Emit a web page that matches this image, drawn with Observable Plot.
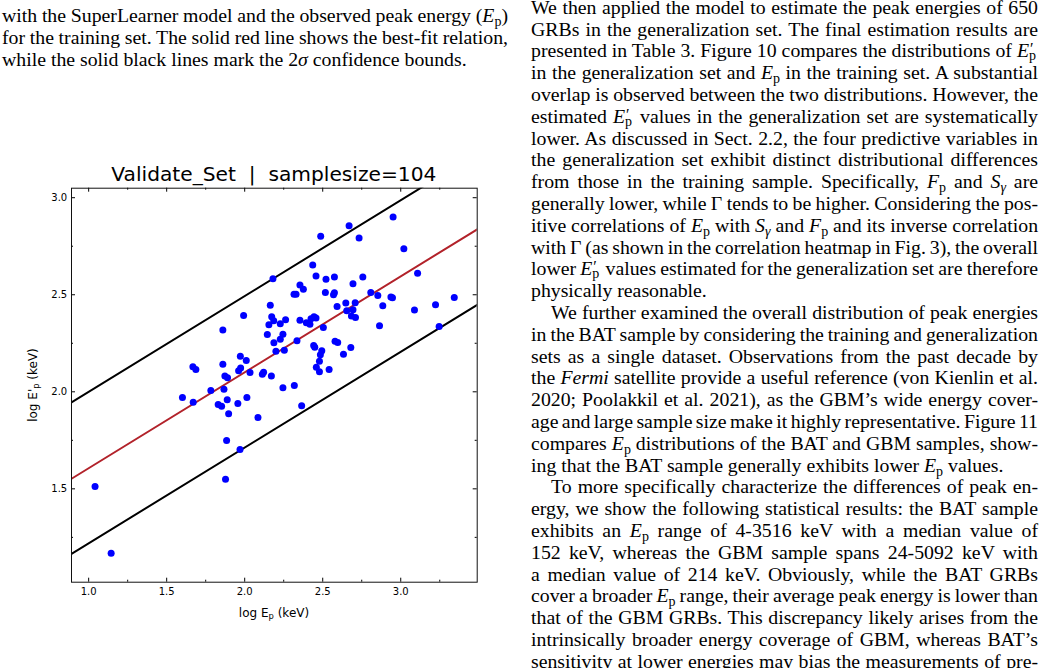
<!DOCTYPE html>
<html><head><meta charset="utf-8">
<script src="https://cdn.jsdelivr.net/npm/d3@7"></script>
<script src="https://cdn.jsdelivr.net/npm/@observablehq/plot@0.6"></script>
<style>
html,body{margin:0;padding:0;background:#fff;}
#page{position:relative;width:1058px;height:668px;overflow:hidden;background:#fff;}
.ln{position:absolute;white-space:nowrap;font-family:"Liberation Serif","Times New Roman",serif;font-size:19.8px;line-height:22px;color:#000;text-align:justify;text-align-last:justify;}
.ln.end,.ln.measure{text-align:left;text-align-last:left;}
.ln sub{font-size:14px;vertical-align:-4px;line-height:0;}
.st{display:inline-block;position:relative;width:9px;height:1px;}
.st .a{position:absolute;left:1px;top:-15px;font-size:16px;line-height:16px;}
.st .b{position:absolute;left:0;top:-7px;font-size:14px;line-height:14px;}
.ct{position:absolute;font-family:"DejaVu Sans",sans-serif;color:#000;white-space:pre;}
.ct sub{font-size:0.7em;vertical-align:-0.25em;line-height:0;}
</style></head>
<body><div id="page"></div>
<script>
// ---------------- data ----------------
const logEp = [2.951,2.669,2.487,2.733,3.020,2.436,3.108,2.181,2.457,2.521,2.575,2.757,2.354,2.376,2.694,2.316,2.329,2.517,2.569,2.575,2.808,2.853,2.937,2.947,3.343,3.223,3.246,3.088,2.885,2.864,2.592,2.648,2.654,2.708,2.694,2.684,2.710,2.164,1.993,2.173,2.186,2.155,2.228,2.262,2.354,2.395,2.418,2.425,2.444,2.457,2.504,1.860,2.145,2.245,2.228,2.187,2.335,2.579,2.596,2.442,2.449,2.494,2.485,2.633,2.680,2.200,2.254,1.972,2.010,1.860,2.479,2.459,2.479,2.541,1.961,1.974,2.034,1.668,1.687,2.113,2.121,2.171,1.873,1.890,1.867,1.783,2.245,2.318,1.601,1.670,1.830,1.852,1.888,1.897,1.956,2.014,2.085,2.365,1.884,1.970,1.877,1.041,1.144];
const logEpEst = [2.900,2.856,2.802,2.792,2.737,2.653,2.611,2.582,2.596,2.580,2.592,2.591,2.550,2.529,2.557,2.503,2.503,2.512,2.500,2.510,2.512,2.496,2.488,2.485,2.486,2.448,2.337,2.421,2.443,2.340,2.440,2.457,2.418,2.459,2.423,2.390,2.383,2.446,2.393,2.387,2.366,2.345,2.350,2.371,2.369,2.356,2.348,2.376,2.387,2.380,2.331,2.318,2.295,2.297,2.271,2.253,2.263,2.261,2.254,2.239,2.230,2.211,2.191,2.194,2.228,2.209,2.214,2.183,2.161,2.142,2.158,2.127,2.103,2.115,2.109,2.123,2.100,2.129,2.115,2.091,2.101,2.082,2.082,2.072,2.013,2.007,2.021,2.032,1.970,1.946,1.934,1.926,1.959,1.887,1.940,1.971,1.868,1.928,1.749,1.703,1.550,1.512,1.168];
const lineX = [0.89, 3.49];
const bestFitY = [1.552, 2.837];
const upperBoundY = [1.945, 3.229];
const lowerBoundY = [1.165, 2.448];
const xDomain = [0.89, 3.49];
const yDomain = [1.019, 3.049];
const xMajor = [1.0, 1.5, 2.0, 2.5, 3.0];
const xMinor = [1.25, 1.75, 2.25, 2.75, 3.25];
const yMajor = [1.5, 2.0, 2.5, 3.0];
const yMinor = [1.25, 1.75, 2.25, 2.75];
const chartTitle = "Validate_Set  |  samplesize=104";
const xLabel = "log E<sub>p</sub> (keV)";
const yLabel = "log E'<sub>p</sub> (keV)";

const Ep = '<i>E</i><sub>p</sub>';
const Epp = '<i>E</i><span class="st"><span class="a">′</span><span class="b">p</span></span>';
const Fp = '<i>F</i><sub>p</sub>';
const Sg = '<i>S</i><sub><i>γ</i></sub>';
const captionLines = [
  `with the SuperLearner model and the observed peak energy (${Ep})`,
  `for the training set. The solid red line shows the best-fit relation,`,
  `while the solid black lines mark the 2<i>σ</i> confidence bounds.`
];
const bodyLines = [
  `We then applied the model to estimate the peak energies of 650`,
  `GRBs in the generalization set. The final estimation results are`,
  `presented in Table 3. Figure 10 compares the distributions of ${Epp}`,
  `in the generalization set and ${Ep} in the training set. A substantial`,
  `overlap is observed between the two distributions. However, the`,
  `estimated ${Epp} values in the generalization set are systematically`,
  `lower. As discussed in Sect. 2.2, the four predictive variables in`,
  `the generalization set exhibit distinct distributional differences`,
  `from those in the training sample. Specifically, ${Fp} and ${Sg} are`,
  `generally lower, while Γ tends to be higher. Considering the pos-`,
  `itive correlations of ${Ep} with ${Sg} and ${Fp} and its inverse correlation`,
  `with Γ (as shown in the correlation heatmap in Fig. 3), the overall`,
  `lower ${Epp} values estimated for the generalization set are therefore`,
  `physically reasonable.`,
  `We further examined the overall distribution of peak energies`,
  `in the BAT sample by considering the training and generalization`,
  `sets as a single dataset. Observations from the past decade by`,
  `the <i>Fermi</i> satellite provide a useful reference (von Kienlin et al.`,
  `2020; Poolakkil et al. 2021), as the GBM’s wide energy cover-`,
  `age and large sample size make it highly representative. Figure 11`,
  `compares ${Ep} distributions of the BAT and GBM samples, show-`,
  `ing that the BAT sample generally exhibits lower ${Ep} values.`,
  `To more specifically characterize the differences of peak en-`,
  `ergy, we show the following statistical results: the BAT sample`,
  `exhibits an ${Ep} range of 4-3516 keV with a median value of`,
  `152 keV, whereas the GBM sample spans 24-5092 keV with`,
  `a median value of 214 keV. Obviously, while the BAT GRBs`,
  `cover a broader ${Ep} range, their average peak energy is lower than`,
  `that of the GBM GRBs. This discrepancy likely arises from the`,
  `intrinsically broader energy coverage of GBM, whereas BAT’s`,
  `sensitivity at lower energies may bias the measurements of pre-`
];
const bodyParEnds = [13, 21];
const bodyIndents = [14, 22];

// ---------------- page text ----------------
const page = document.getElementById("page");
function addLine(html, left, baseline, width, isEnd) {
  const d = document.createElement("div");
  d.className = "ln measure";
  d.style.left = left + "px";
  d.style.top = (baseline - 17.75) + "px";
  d.style.width = width + "px";
  d.innerHTML = `<span>${html}</span>`;
  page.appendChild(d);
  const nat = d.firstChild.getBoundingClientRect().width;
  if (nat > width) {
    const n = (d.textContent.match(/ /g) || []).length || 1;
    d.style.wordSpacing = ((width - nat) / n - 0.05) + "px";
  }
  d.className = "ln" + (isEnd ? " end" : "");
}
captionLines.forEach((t, i) => addLine(t, 2, 21.9 + i * 22.1, 506, i === captionLines.length - 1));
bodyLines.forEach((t, i) => {
  const ind = bodyIndents.includes(i) ? 20 : 0;
  addLine(t, 531 + ind, 13.5 + i * 21.8, 507 - ind, bodyParEnds.includes(i));
});

// ---------------- chart ----------------
const pts = logEp.map((x, i) => ({x, y: logEpEst[i]}));
const seg = ys => lineX.map((x, i) => ({x, y: ys[i]}));
const W = 500, H = 480, mL = 71, mR = 23.3, mT = 37.7, mB = 48.3;
const fw = W - mL - mR, fh = H - mT - mB;
const chart = Plot.plot({
  width: W, height: H,
  marginLeft: mL, marginRight: mR, marginTop: mT, marginBottom: mB,
  x: {domain: xDomain},
  y: {domain: yDomain},
  style: {position: "absolute", left: "0px", top: "150px", background: "transparent",
          fontFamily: "DejaVu Sans", fontSize: "10px", color: "#000", overflow: "visible"},
  marks: [
    Plot.line(seg(upperBoundY), {x: "x", y: "y", stroke: "#000", strokeWidth: 2, clip: true}),
    Plot.line(seg(lowerBoundY), {x: "x", y: "y", stroke: "#000", strokeWidth: 2, clip: true}),
    Plot.line(seg(bestFitY), {x: "x", y: "y", stroke: "#b2222a", strokeWidth: 2, clip: true}),
    Plot.dot(pts, {x: "x", y: "y", r: 3.5, fill: "#0000ff", stroke: null}),
    Plot.tickX(xMajor, {x: d => d, insetTop: fh - 4, stroke: "#000"}),
    Plot.tickX(xMajor, {x: d => d, insetBottom: fh - 4, stroke: "#000"}),
    Plot.tickX(xMinor, {x: d => d, insetTop: fh - 2, stroke: "#000"}),
    Plot.tickX(xMinor, {x: d => d, insetBottom: fh - 2, stroke: "#000"}),
    Plot.tickY(yMajor, {y: d => d, insetRight: fw - 4, stroke: "#000"}),
    Plot.tickY(yMajor, {y: d => d, insetLeft: fw - 4, stroke: "#000"}),
    Plot.tickY(yMinor, {y: d => d, insetRight: fw - 2, stroke: "#000"}),
    Plot.tickY(yMinor, {y: d => d, insetLeft: fw - 2, stroke: "#000"}),
    Plot.axisX({anchor: "bottom", ticks: xMajor, tickSize: 0, tickPadding: 5.2, tickFormat: d3.format(".1f"), label: null, fill: "#000"}),
    Plot.axisY({anchor: "left", ticks: yMajor, tickSize: 0, tickPadding: 4.3, tickFormat: d3.format(".1f"), label: null, fill: "#000"}),
    Plot.frame({stroke: "#111", strokeWidth: 1})
  ]
});
page.appendChild(chart);

function addChartText(html, cx, baseline, size, rotate) {
  const d = document.createElement("div");
  d.className = "ct";
  d.style.fontSize = size + "px";
  d.style.lineHeight = size + "px";
  d.innerHTML = html;
  page.appendChild(d);
  const w = d.offsetWidth;
  const off = -(1.164 * size - size) / 2 + 0.928 * size;
  d.style.left = (cx - w / 2) + "px";
  if (!rotate) {
    d.style.top = (baseline - off) + "px";
  } else {
    d.style.top = (baseline - size / 2) + "px";
    d.style.transform = "rotate(-90deg)";
    d.style.transformOrigin = "50% 50%";
  }
}
const cxFrame = mL + fw / 2;
addChartText(chartTitle, cxFrame, 180.7, 20.2, false);
addChartText(xLabel, cxFrame, 617, 12, false);
addChartText(yLabel, 33, 150 + mT + fh / 2, 12, true);
</script>
</body></html>
